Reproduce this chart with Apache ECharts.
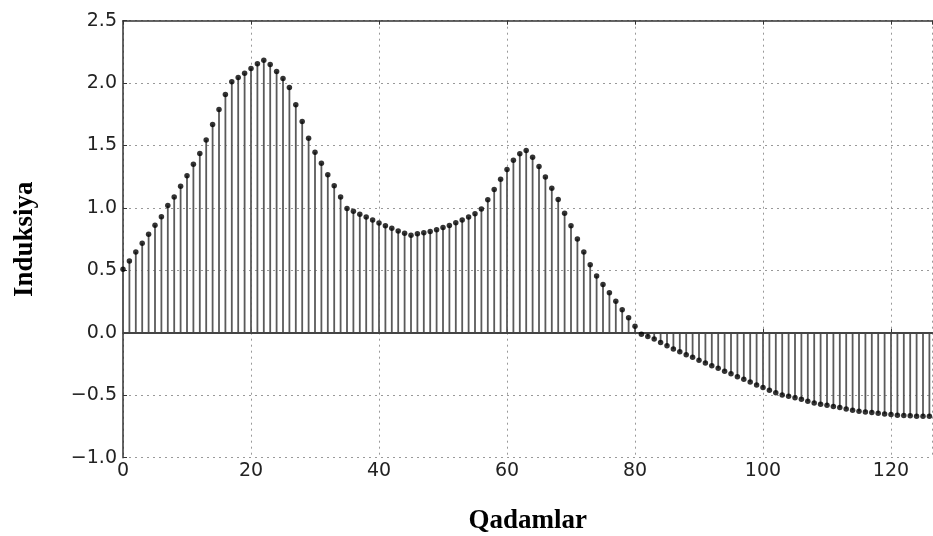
<!DOCTYPE html>
<html>
<head>
<meta charset="utf-8">
<script src="https://cdn.jsdelivr.net/npm/echarts@6/dist/echarts.min.js"></script>
<style>
html,body{margin:0;padding:0;background:#fff;}
#chart{width:933px;height:536px;}
</style>
</head>
<body>
<div id="chart"></div>
<script>
// Induksiya values at Qadamlar = 0, 1, 2, ... (one per step)
var induksiya = [
  0.510, 0.575, 0.647, 0.717, 0.789, 0.861, 0.930, 1.019, 1.088, 1.174,
  1.259, 1.350, 1.436, 1.545, 1.668, 1.789, 1.909, 2.011, 2.045, 2.080,
  2.118, 2.155, 2.184, 2.150, 2.094, 2.037, 1.965, 1.826, 1.693, 1.559,
  1.447, 1.358, 1.267, 1.179, 1.088, 0.995, 0.973, 0.949, 0.928, 0.904,
  0.880, 0.858, 0.838, 0.815, 0.798, 0.782, 0.793, 0.801, 0.812, 0.825,
  0.844, 0.860, 0.882, 0.903, 0.927, 0.954, 0.992, 1.065, 1.148, 1.231,
  1.309, 1.382, 1.435, 1.461, 1.406, 1.332, 1.249, 1.158, 1.067, 0.957,
  0.858, 0.751, 0.647, 0.545, 0.455, 0.388, 0.321, 0.254, 0.184, 0.120,
  0.053, -0.011, -0.030, -0.050, -0.077, -0.103, -0.129, -0.152, -0.175, -0.196,
  -0.219, -0.242, -0.263, -0.284, -0.307, -0.327, -0.351, -0.371, -0.394, -0.418,
  -0.438, -0.459, -0.479, -0.497, -0.508, -0.519, -0.532, -0.548, -0.561, -0.572,
  -0.580, -0.590, -0.598, -0.609, -0.620, -0.628, -0.633, -0.638, -0.644, -0.649,
  -0.654, -0.660, -0.662, -0.665, -0.668, -0.668, -0.668
];
var xTicks = [0, 20, 40, 60, 80, 100, 120];
var yTicks = [-1.0, -0.5, 0.0, 0.5, 1.0, 1.5, 2.0, 2.5];
var xTitle = 'Qadamlar';
var yTitle = 'Induksiya';

var points = induksiya.map(function (v, i) { return [i, v]; });

var chart = echarts.init(document.getElementById('chart'), null, {renderer: 'canvas'});
var tickFont = {fontFamily: 'DejaVu Sans', fontSize: 19, color: '#222'};
var gridLine = {show: true, lineStyle: {color: '#999', width: 1, type: [2, 4]}};
chart.setOption({
  animation: false,
  backgroundColor: '#fff',
  grid: {left: 123, top: 20.7, right: 0.4, bottom: 78.3, containLabel: false, outerBoundsMode: 'none'},
  xAxis: [{
    type: 'value', position: 'bottom', min: 0, max: 126.5, interval: 20,
    axisLine: {show: true, lineStyle: {color: '#333', width: 1.5}},
    axisTick: {show: true, inside: true, length: 4, lineStyle: {color: '#333'}},
    axisLabel: Object.assign({margin: 4, showMaxLabel: false,
      formatter: function (v) { return xTicks.indexOf(v) >= 0 ? String(v) : ''; }}, tickFont),
    splitLine: gridLine,
    name: xTitle, nameLocation: 'middle', nameGap: 50,
    nameTextStyle: {fontFamily: 'Liberation Serif', fontWeight: 'bold', fontSize: 27, color: '#000'}
  }, {
    type: 'value', position: 'top', min: 0, max: 126.5, interval: 20,
    axisLine: {show: true, lineStyle: {color: '#333', width: 1.5}},
    axisTick: {show: true, inside: true, length: 4, lineStyle: {color: '#333'}},
    axisLabel: {show: false}, splitLine: {show: false}
  }],
  yAxis: {
    type: 'value', min: -1, max: 2.5, interval: 0.5,
    axisLine: {show: true, lineStyle: {color: '#333', width: 1.5}},
    axisTick: {show: true, inside: true, length: 4, lineStyle: {color: '#333'}},
    axisLabel: Object.assign({margin: 6,
      formatter: function (v) { return (v < 0 ? '\u2212' + Math.abs(v).toFixed(1) : v.toFixed(1)); }}, tickFont),
    splitLine: gridLine,
    name: yTitle, nameLocation: 'middle', nameGap: 84, nameRotate: 90,
    nameTextStyle: {fontFamily: 'Liberation Serif', fontWeight: 'bold', fontSize: 27, color: '#000'}
  },
  series: [{
    type: 'bar', xAxisIndex: 0, data: points, barWidth: 1.8,
    itemStyle: {color: '#5a5a5a'}, silent: true
  }, {
    type: 'scatter', xAxisIndex: 0, data: points, symbol: 'circle', symbolSize: 5.5,
    itemStyle: {color: '#000'}, silent: true, z: 5,
    markLine: {
      silent: true, symbol: ['none', 'none'], label: {show: false},
      lineStyle: {color: '#444', width: 2, type: 'solid'},
      data: [{yAxis: 0}]
    }
  }]
});
</script>
</body>
</html>
